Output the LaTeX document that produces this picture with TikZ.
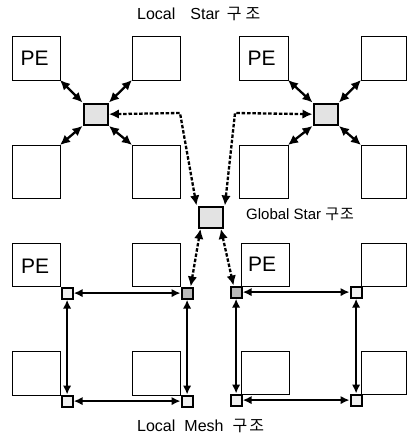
\documentclass[tikz,border=0pt]{standalone}
\usepackage{fontspec}
\setmainfont{Liberation Sans}
\newfontfamily\kr{Noto Sans CJK KR}
\usetikzlibrary{arrows.meta}
\begin{document}
\begin{tikzpicture}[x=1pt,y=-1pt,
  pebox/.style={draw, line width=1pt, inner sep=0pt, outer sep=0pt, anchor=north west},
  petext/.style={font=\fontsize{21}{21}\selectfont, inner sep=0pt, anchor=base west},
  bigsw/.style={draw, line width=2.4pt, fill=gray!22, inner sep=0pt, anchor=north west,
                minimum width=24pt, minimum height=21pt},
  meshsw/.style={draw, line width=2.2pt, fill=gray!12, inner sep=0pt, anchor=north west,
                minimum width=11pt, minimum height=11pt},
  darksw/.style={meshsw, fill=gray!55},
  biarrow/.style={line width=2.3pt, {Latex[length=10pt,width=9.5pt]}-{Latex[length=10pt,width=9.5pt]}},
  dbiarrow/.style={biarrow, dash pattern=on 3.5pt off 1.8pt},
  mesharrow/.style={line width=1.9pt, {Latex[length=9pt,width=8.5pt]}-{Latex[length=9pt,width=8.5pt]}},
  lbl/.style={inner sep=0pt, anchor=base west, font=\fontsize{16}{16}\selectfont}
]
\useasboundingbox (0,0) rectangle (407,436);

% ---------- labels ----------
\node[lbl] (tLS) at (137,20) {Local\hspace{15pt}Star\hspace{7pt}{\kr 구\hspace{4pt}조}};
\node[lbl, font=\fontsize{15}{15}\selectfont] (tGS) at (246,219) {Global Star {\kr 구\hspace{1pt}조}};
\node[lbl] (tLM) at (137,431) {Local\hspace{9pt}Mesh\hspace{9pt}{\kr 구\hspace{2pt}조}};

% ---------- top-left local star ----------
\node[pebox, minimum width=48pt, minimum height=43pt] (A) at (12,37) {};
\node[pebox, minimum width=48pt, minimum height=43pt] (B) at (132,37) {};
\node[pebox, minimum width=48pt, minimum height=53pt] (C) at (12,145) {};
\node[pebox, minimum width=48pt, minimum height=53pt] (D) at (132,145) {};
\node[petext] (Atxt) at (20.5,65) {PE};
\node[bigsw] (S1) at (82.5,102.5) {};
\draw[biarrow] (A.south east) -- (S1.north west);
\draw[biarrow] (B.south west) -- (S1.north east);
\draw[biarrow] (C.north east) -- (S1.south west);
\draw[biarrow] (D.north west) -- (S1.south east);

% ---------- top-right local star ----------
\node[pebox, minimum width=49pt, minimum height=43pt] (E) at (239,37) {};
\node[pebox, minimum width=45pt, minimum height=43pt] (F) at (361,37) {};
\node[pebox, minimum width=49pt, minimum height=53pt] (G) at (239,145) {};
\node[pebox, minimum width=45pt, minimum height=53pt] (H) at (361,145) {};
\node[petext] (Etxt) at (247.5,65) {PE};
\node[bigsw] (S2) at (312.5,102.5) {};
\draw[biarrow] (E.south east) -- (S2.north west);
\draw[biarrow] (F.south west) -- (S2.north east);
\draw[biarrow] (G.north east) -- (S2.south west);
\draw[biarrow] (H.north west) -- (S2.south east);

% ---------- global star ----------
\node[bigsw] (SG) at (197.5,205.5) {};
\coordinate (k1) at (180,113);
\coordinate (k2) at (235,113);
\draw[dbiarrow] (S1.east) -- (k1) -- ([xshift=-1pt]SG.north west);
\draw[dbiarrow] (S2.west) -- (k2) -- ([xshift=1pt]SG.north east);

% ---------- bottom-left local mesh ----------
\node[pebox, minimum width=48pt, minimum height=43pt] (I) at (12,243) {};
\node[pebox, minimum width=48pt, minimum height=43pt] (J) at (132,243) {};
\node[pebox, minimum width=48pt, minimum height=44pt] (K) at (12,351) {};
\node[pebox, minimum width=48pt, minimum height=44pt] (L) at (132,351) {};
\node[petext] (Itxt) at (21,273) {PE};
\node[meshsw] (m1) at (60.5,286.5) {};
\node[darksw] (m2) at (180.5,286.5) {};
\node[meshsw] (m3) at (60.5,394.5) {};
\node[meshsw] (m4) at (180.5,394.5) {};
\draw[mesharrow] (m1.east) -- (m2.west);
\draw[mesharrow] (m3.east) -- (m4.west);
\draw[mesharrow] (m1.south) -- (m3.north);
\draw[mesharrow] (m2.south) -- (m4.north);

% ---------- bottom-right local mesh ----------
\node[pebox, minimum width=48pt, minimum height=43pt] (N) at (241,243) {};
\node[pebox, minimum width=45pt, minimum height=43pt] (O) at (361,243) {};
\node[pebox, minimum width=48pt, minimum height=43pt] (P) at (241,351) {};
\node[pebox, minimum width=45pt, minimum height=43pt] (Q) at (361,351) {};
\node[petext] (Ntxt) at (248,271) {PE};
\node[darksw] (n1) at (229.5,285.5) {};
\node[meshsw] (n2) at (349.5,285.5) {};
\node[meshsw] (n3) at (229.5,393.5) {};
\node[meshsw] (n4) at (349.5,393.5) {};
\draw[mesharrow] (n1.east) -- (n2.west);
\draw[mesharrow] (n3.east) -- (n4.west);
\draw[mesharrow] (n1.south) -- (n3.north);
\draw[mesharrow] (n2.south) -- (n4.north);

% ---------- global to mesh ----------
\draw[dbiarrow] ([xshift=3pt]SG.south west) -- ([xshift=-3pt]m2.north east);
\draw[dbiarrow] ([xshift=-3pt]SG.south east) -- ([xshift=4pt]n1.north west);
\end{tikzpicture}
\end{document}
